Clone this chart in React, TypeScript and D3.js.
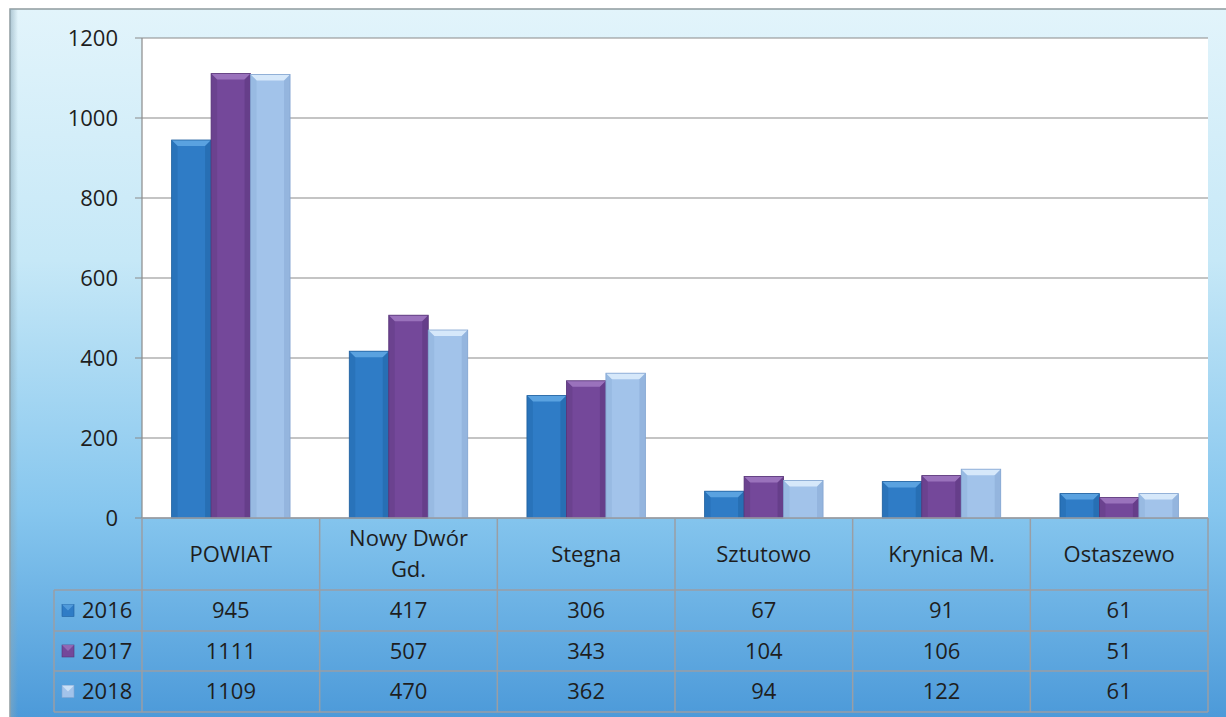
import React from "react";
import * as d3 from "d3";

const categories = ["POWIAT", "Nowy Dwór Gd.", "Stegna", "Sztutowo", "Krynica M.", "Ostaszewo"];
const categoryLines = [["POWIAT"], ["Nowy Dwór", "Gd."], ["Stegna"], ["Sztutowo"], ["Krynica M."], ["Ostaszewo"]];
const seriesNames = ["2016", "2017", "2018"];
const values2016 = [945, 417, 306, 67, 91, 61];
const values2017 = [1111, 507, 343, 104, 106, 51];
const values2018 = [1109, 470, 362, 94, 122, 61];
const yTicks = [0, 200, 400, 600, 800, 1000, 1200];

const seriesValues = [values2016, values2017, values2018];
const seriesColors = [
  { base: "#2f7cc6", light: "#5aa2e0", dark: "#1f5f9e" },
  { base: "#74489a", light: "#9a72bc", dark: "#573477" },
  { base: "#a2c3ea", light: "#d6e8fa", dark: "#82a4d0" },
];

const W = 1226;
const H = 717;
const plotL = 142;
const plotR = 1208;
const plotT = 38;
const plotB = 518;
const legendL = 54;
const rowLines = [518, 590, 631, 671, 712];
const FONT = "'Open Sans', 'Noto Sans', sans-serif";

export default function App() {
  const y = d3.scaleLinear().domain([0, 1200]).range([plotB, plotT]);
  const x0 = d3.scaleBand<string>().domain(categories).range([plotL, plotR]).paddingInner(0).paddingOuter(0);
  const x1 = d3
    .scaleBand<string>()
    .domain(seriesNames)
    .range([0, x0.bandwidth()])
    .paddingInner(0)
    .paddingOuter(0.75);
  const b = 6;
  const fs = 22;

  return (
    <svg
      width={W}
      height={H}
      style={{ position: "absolute", left: 0, top: 0, background: "#ffffff" }}
      fontFamily={FONT}
    >
      <defs>
        <linearGradient id="bg" x1="0" y1="0" x2="0" y2="1">
          <stop offset="0" stopColor="#e2f4fb" />
          <stop offset="0.35" stopColor="#c6e8f7" />
          <stop offset="0.7" stopColor="#86c6ee" />
          <stop offset="1" stopColor="#4a98d8" />
        </linearGradient>
        <linearGradient id="leftShade" x1="0" y1="0" x2="1" y2="0">
          <stop offset="0" stopColor="#8aa8b8" stopOpacity="0.6" />
          <stop offset="1" stopColor="#8aa8b8" stopOpacity="0" />
        </linearGradient>
      </defs>
      <rect x={0} y={0} width={W} height={H} fill="#ffffff" />
      <rect x={10} y={9} width={W} height={H} fill="url(#bg)" stroke="#8f9a9e" strokeWidth={1.5} />
      <rect x={10} y={9} width={8} height={H} fill="url(#leftShade)" />
      <rect x={plotL} y={plotT} width={plotR - plotL} height={plotB - plotT} fill="#ffffff" />
      {yTicks.map((t) => (
        <g key={t}>
          <line x1={135} x2={plotR} y1={y(t)} y2={y(t)} stroke="#8a8a8a" strokeWidth={1.2} />
          <text x={118} y={y(t)} dy="0.35em" textAnchor="end" fontSize={fs} fill="#1e1e1e">
            {t}
          </text>
        </g>
      ))}
      <line x1={plotL} x2={plotL} y1={plotT} y2={plotB} stroke="#8a8a8a" strokeWidth={1.2} />
      {categories.map((c, ci) =>
        seriesNames.map((s, si) => {
          const v = seriesValues[si][ci];
          const bx = (x0(c) as number) + (x1(s) as number);
          const bw = x1.bandwidth();
          const by = y(v);
          const bh = plotB - by;
          const col = seriesColors[si];
          return (
            <g key={c + s}>
              <rect x={bx} y={by} width={bw} height={bh} fill={col.base} />
              <polygon
                points={`${bx},${by} ${bx + bw},${by} ${bx + bw - b},${by + b} ${bx + b},${by + b}`}
                fill={col.light}
              />
              <polygon
                points={`${bx},${by} ${bx + b},${by + b} ${bx + b},${by + bh} ${bx},${by + bh}`}
                fill={col.dark}
                opacity={0.3}
              />
              <polygon
                points={`${bx + bw},${by} ${bx + bw - b},${by + b} ${bx + bw - b},${by + bh} ${bx + bw},${by + bh}`}
                fill={col.dark}
                opacity={0.45}
              />
              <rect x={bx} y={by} width={bw} height={bh} fill="none" stroke={col.dark} strokeWidth={0.8} />
            </g>
          );
        })
      )}
      <g stroke="#9a9ea4" strokeWidth={1.5} fill="none">
        <line x1={plotL} x2={plotR} y1={rowLines[0]} y2={rowLines[0]} />
        {rowLines.slice(1).map((ry) => (
          <line key={ry} x1={legendL} x2={plotR} y1={ry} y2={ry} />
        ))}
        <line x1={legendL} x2={legendL} y1={rowLines[1]} y2={rowLines[4]} />
        {categories.map((c) => (
          <line key={c} x1={x0(c) as number} x2={x0(c) as number} y1={rowLines[0]} y2={rowLines[4]} />
        ))}
        <line x1={plotR} x2={plotR} y1={rowLines[0]} y2={rowLines[4]} />
      </g>
      {categories.map((c, ci) => {
        const cx = (x0(c) as number) + x0.bandwidth() / 2;
        const lines = categoryLines[ci];
        const mid = (rowLines[0] + rowLines[1]) / 2;
        const lh = 31;
        return (
          <text key={c} x={cx} textAnchor="middle" fontSize={fs} fill="#1e1e1e">
            {lines.map((l, li) => (
              <tspan key={li} x={cx} y={mid + (li - (lines.length - 1) / 2) * lh} dy="0.35em">
                {l}
              </tspan>
            ))}
          </text>
        );
      })}
      {seriesNames.map((s, si) => {
        const rowMid = (rowLines[si + 1] + rowLines[si + 2]) / 2;
        const col = seriesColors[si];
        return (
          <g key={s}>
            <rect x={62} y={rowMid - 6} width={12} height={12} fill={col.base} stroke={col.dark} strokeWidth={0.6} />
            <polygon points={`${62},${rowMid - 6} ${74},${rowMid - 6} ${68},${rowMid}`} fill={col.light} opacity={0.8} />
            <text x={82} y={rowMid} dy="0.35em" fontSize={fs} fill="#1e1e1e">
              {s}
            </text>
            {categories.map((c, ci) => (
              <text
                key={c}
                x={(x0(c) as number) + x0.bandwidth() / 2}
                y={rowMid}
                dy="0.35em"
                textAnchor="middle"
                fontSize={fs}
                fill="#1e1e1e"
              >
                {seriesValues[si][ci]}
              </text>
            ))}
          </g>
        );
      })}
    </svg>
  );
}
